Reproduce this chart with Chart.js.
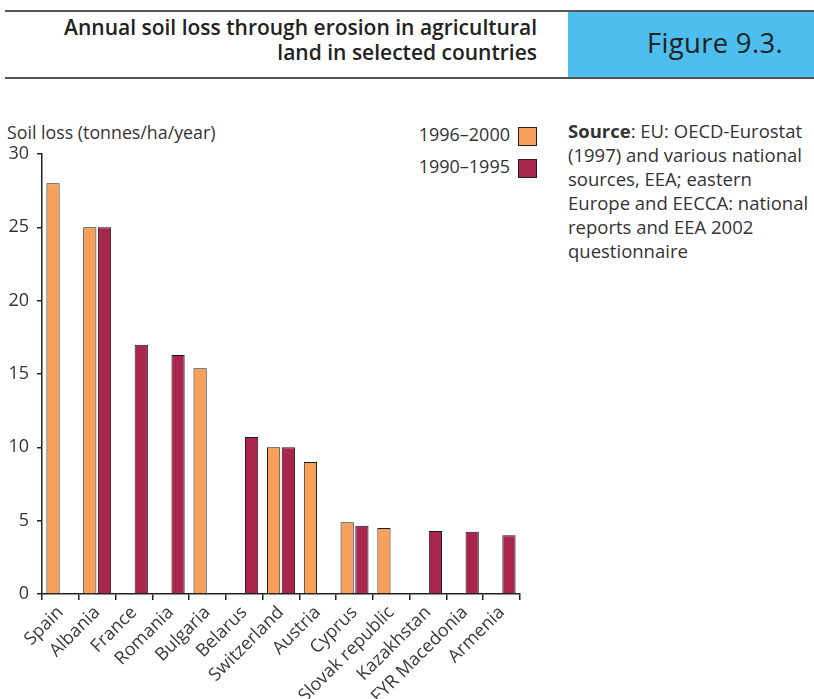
<!DOCTYPE html>
<html>
<head>
<meta charset="utf-8">
<script src="https://cdn.jsdelivr.net/npm/chart.js@4"></script>
<style>
  html, body { margin: 0; padding: 0; background: #fff; }
  body { width: 814px; height: 699px; position: relative; overflow: hidden; font-family: "Open Sans", sans-serif; color: #333; }
  #c { position: absolute; left: 0; top: 0; }
  .abs { position: absolute; white-space: nowrap; }
  .hline { position: absolute; left: 5px; width: 809px; height: 2px; background: #555; }
  #blue { position: absolute; left: 568px; top: 12px; width: 246px; height: 66px; background: #4DBEEE; }
  #title { right: 277px; top: 15px; font-size: 21px; font-weight: 600; line-height: 25px; text-align: right; color: #222; }
  #fig { left: 647px; top: 24px; font-size: 27.5px; color: #222; letter-spacing: 0.3px; }
  #ytitle { left: 7px; top: 120px; font-size: 17.8px; color: #333; }
  #source { left: 568px; top: 119px; font-size: 18.5px; line-height: 24px; color: #333; }
  .leg { font-size: 18px; color: #333; }
  .box { position: absolute; width: 17px; height: 17px; border: 1px solid #222; }
</style>
</head>
<body>
<div class="hline" style="top:10px"></div>
<div id="blue"></div>
<div class="hline" style="top:77px"></div>
<div id="title" class="abs">Annual soil loss through erosion in agricultural<br>land in selected countries</div>
<div id="fig" class="abs">Figure 9.3.</div>
<div id="ytitle" class="abs">Soil loss (tonnes/ha/year)</div>
<div id="legend"></div>
<div id="source" class="abs"><b>Source</b>: EU: OECD-Eurostat<br>(1997) and various national<br>sources, EEA; eastern<br>Europe and EECCA: national<br>reports and EEA 2002<br>questionnaire</div>
<canvas id="c" width="814" height="699"></canvas>
<script>
const categories = ['Spain','Albania','France','Romania','Bulgaria','Belarus','Switzerland','Austria','Cyprus','Slovak republic','Kazakhstan','FYR Macedonia','Armenia'];
const seriesNames = ['1996–2000', '1990–1995'];
const loss1996to2000 = [28, 25, null, null, 15.4, null, 10, 9, 4.9, 4.5, null, null, null];
const loss1990to1995 = [null, 25, 17, 16.3, null, 10.7, 10, null, 4.65, null, 4.3, 4.25, 4.0];
const yTicks = [0, 5, 10, 15, 20, 25, 30];

const colors = ['#F7A05B', '#A8264D'];

// HTML legend
const legend = document.getElementById('legend');
seriesNames.forEach((name, i) => {
  const t = document.createElement('div');
  t.className = 'abs leg';
  t.style.right = (814 - 510) + 'px';
  t.style.top = (122 + i * 32) + 'px';
  t.textContent = name;
  legend.appendChild(t);
  const b = document.createElement('div');
  b.className = 'box';
  b.style.left = '518px';
  b.style.top = (127 + i * 32) + 'px';
  b.style.background = colors[i];
  legend.appendChild(b);
});

new Chart(document.getElementById('c'), {
  type: 'bar',
  data: {
    labels: categories,
    datasets: [
      { label: seriesNames[0], data: loss1996to2000, backgroundColor: colors[0], borderColor: '#1a1a1a', borderWidth: 1 },
      { label: seriesNames[1], data: loss1990to1995, backgroundColor: colors[1], borderColor: '#1a1a1a', borderWidth: 1 }
    ]
  },
  options: {
    responsive: false,
    animation: false,
    devicePixelRatio: 1,
    layout: { padding: { top: 154, right: 294, left: 0, bottom: 0 } },
    plugins: { legend: { display: false }, tooltip: { enabled: false } },
    scales: {
      x: {
        grid: { display: true, drawOnChartArea: false, drawTicks: true, tickLength: 6, color: '#222', lineWidth: 1.5, offset: true },
        border: { display: true, color: '#222', width: 1.5 },
        ticks: { minRotation: 45, maxRotation: 45, autoSkip: false, color: '#3a3a3a', font: { family: 'Open Sans', size: 18 }, padding: 2 },
        afterFit: (s) => { s.height = 105; }
      },
      y: {
        min: 0, max: 30,
        afterBuildTicks: (s) => { s.ticks = yTicks.map(v => ({ value: v })); },
        grid: { display: true, drawOnChartArea: false, drawTicks: true, tickLength: 5, color: '#222', lineWidth: 1.5 },
        border: { display: true, color: '#222', width: 1.5 },
        ticks: { color: '#333', font: { family: 'Open Sans', size: 18 }, padding: 8 },
        afterFit: (s) => { s.width = 42; }
      }
    }
  }
});
</script>
</body>
</html>
